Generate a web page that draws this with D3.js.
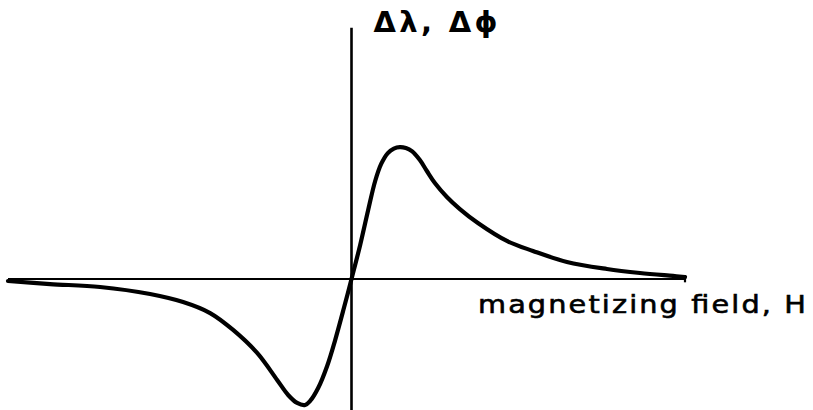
<!DOCTYPE html>
<html>
<head>
<meta charset="utf-8">
<script src="https://cdn.jsdelivr.net/npm/d3@7"></script>
<style>
  html, body { margin: 0; padding: 0; background: #fff; }
  svg { display: block; }
</style>
</head>
<body>
<svg id="chart" width="813" height="410"></svg>
<script>
// Magnetizing field H (arbitrary units) and the response Δλ, Δφ (arbitrary units)
const fieldH = [-10.3, -9.04, -7.54, -6.04, -5.05, -4.24, -3.55, -2.83, -2.23, -1.90, -1.63,
                -1.39, -1.24, -1.00, -0.73, -0.49, -0.22, 0,
                0.26, 0.50, 0.71, 0.89, 1.09, 1.27, 1.45, 1.63, 1.81, 2.05, 2.26, 2.50,
                2.86, 3.25, 3.79, 4.66, 5.44, 6.46, 7.66, 8.65, 9.64, 10.0];
const response = [-0.15, -0.38, -0.60, -1.13, -1.73, -2.56, -3.83, -5.56, -7.59, -8.72, -9.32,
                  -9.47, -9.17, -8.20, -6.54, -4.59, -2.11, 0,
                  2.56, 5.19, 7.37, 8.65, 9.47, 9.81, 9.92, 9.85, 9.62, 8.95, 8.12, 7.22,
                  6.17, 5.26, 4.21, 2.86, 2.11, 1.28, 0.75, 0.45, 0.23, 0.15];

const xDomain = [-10.3, 10.0];
const yDomain = [-10, 10];
const yAxisTop = 18.9;     // vertical axis runs up well past the peak
const yAxisBottom = -10.0;

const axisLabel = "magnetizing field, H";
const responseLabel = "Δλ, Δϕ";

const svg = d3.select("#chart");

const x = d3.scaleLinear().domain(xDomain).range([8, 685]);
const y = d3.scaleLinear().domain(yDomain).range([412, 146]);

const ink = "#000";

// horizontal (field) axis
svg.append("line")
  .attr("x1", x(xDomain[0])).attr("x2", x(xDomain[1]))
  .attr("y1", y(0)).attr("y2", y(0))
  .attr("stroke", ink).attr("stroke-width", 2.2);

// small closing tick at the right end of the field axis
svg.append("line")
  .attr("x1", x(xDomain[1])).attr("x2", x(xDomain[1]))
  .attr("y1", y(0.3)).attr("y2", y(-0.25))
  .attr("stroke", ink).attr("stroke-width", 2.2);

// vertical (response) axis
svg.append("line")
  .attr("x1", x(0)).attr("x2", x(0))
  .attr("y1", y(yAxisTop)).attr("y2", y(yAxisBottom))
  .attr("stroke", ink).attr("stroke-width", 2.6);

// response curve
const line = d3.line()
  .x((d, i) => x(fieldH[i]))
  .y((d, i) => y(response[i]))
  .curve(d3.curveCatmullRom.alpha(0.5));

svg.append("path")
  .datum(response)
  .attr("d", line)
  .attr("fill", "none")
  .attr("stroke", ink)
  .attr("stroke-width", 4.2)
  .attr("stroke-linejoin", "round")
  .attr("stroke-linecap", "round");

// axis titles (the field label is set in a wide, heavy face)
const labelStretch = 1.15;
svg.append("text")
  .attr("transform", `translate(478,313) scale(${labelStretch},1)`)
  .attr("font-family", "'DejaVu Sans', sans-serif")
  .attr("font-size", 25)
  .attr("textLength", 328 / labelStretch)
  .attr("lengthAdjust", "spacing")
  .attr("fill", ink)
  .attr("stroke", ink)
  .attr("stroke-width", 0.6)
  .text(axisLabel);

svg.append("text")
  .attr("x", x(0) + 22).attr("y", 32)
  .attr("font-family", "'DejaVu Sans', 'Liberation Sans', sans-serif")
  .attr("font-weight", "bold")
  .attr("font-size", 29)
  .attr("textLength", 124)
  .attr("lengthAdjust", "spacing")
  .attr("fill", ink)
  .text(responseLabel);
</script>
</body>
</html>
